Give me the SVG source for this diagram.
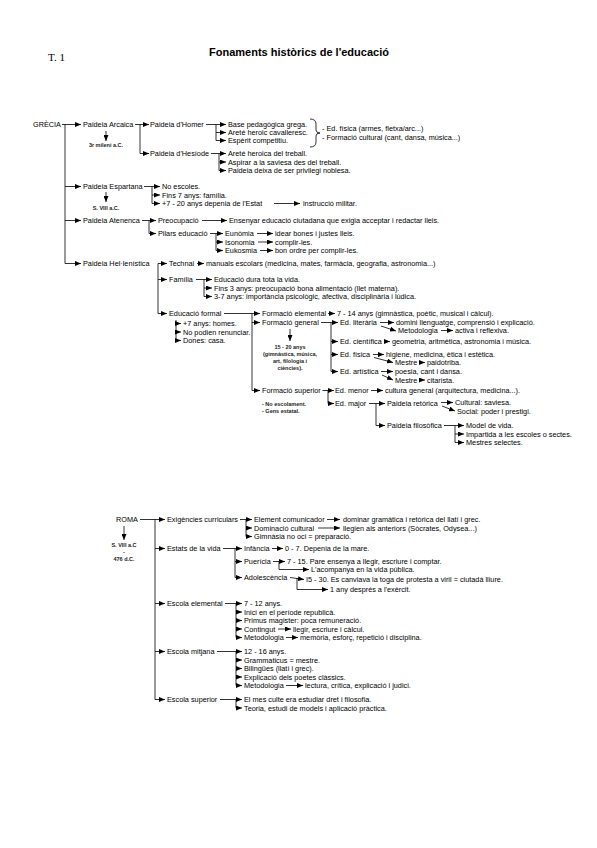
<svg xmlns="http://www.w3.org/2000/svg" width="597" height="848" viewBox="0 0 597 848">
<defs>
<marker id="a" viewBox="0 0 6 5" refX="6" refY="2.5" markerWidth="6" markerHeight="5" markerUnits="userSpaceOnUse" orient="auto"><path d="M0,0L6,2.5L0,5z" fill="#000"/></marker>
<style>
.t{font-family:"Liberation Sans",Arial,sans-serif;font-size:7.3px;fill:#000}
.s{font-family:"Liberation Sans",Arial,sans-serif;font-size:5.5px;font-weight:bold;fill:#222}
.m{text-anchor:middle}
#conn path{stroke:#000;stroke-width:0.8;fill:none}
#conn path.r{marker-end:url(#a)}
</style>
</defs>
<rect width="597" height="848" fill="#fff"/>
<g id="title">
<text x="48" y="61" style="font-family:'Liberation Serif','Times New Roman',serif;font-size:11px">T. 1</text>
<text x="299" y="56" text-anchor="middle" style="font-family:'Liberation Sans',Arial,sans-serif;font-size:11px;font-weight:bold">Fonaments històrics de l'educació</text>
</g>
<g id="conn">
<path class="r" d="M62,124.5H81"/><path d="M65,124.5V263.5"/>
<path class="r" d="M65,186.5H81"/><path class="r" d="M65,220.5H81"/><path class="r" d="M65,263.5H81"/>
<path class="r" d="M135,124.5H149"/><path d="M140,124.5V153.5"/><path class="r" d="M140,153.5H149"/>
<path class="r" d="M106,131V141"/>
<path class="r" d="M206,124.5H226"/><path d="M216,124.5V140.5"/><path class="r" d="M216,132.5H226"/><path class="r" d="M216,140.5H226"/>
<path d="M310,119Q316,119 316,124V130Q316,133 320,133Q316,133 316,136V142Q316,147 310,147"/>
<path class="r" d="M211,153.5H226"/><path d="M219,153.5V170.5"/><path class="r" d="M219,162H226"/><path class="r" d="M219,170.5H226"/>
<path class="r" d="M144,186.5H160"/><path d="M152,186.5V203.5"/><path class="r" d="M152,195H160"/><path class="r" d="M152,203.5H160"/>
<path class="r" d="M106,192V202"/>
<path class="r" d="M274,203.5H300"/>
<path d="M142,220.5H149V233.5"/><path class="r" d="M149,220.5H156"/><path class="r" d="M149,233.5H156"/>
<path class="r" d="M202,220.5H227"/>
<path class="r" d="M210,233.5H223"/><path d="M216,233.5V250.5"/><path class="r" d="M216,242H223"/><path class="r" d="M216,250.5H223"/>
<path class="r" d="M257,233.5H273"/><path class="r" d="M258,242H273"/><path class="r" d="M260,250.5H273"/>
<path d="M158,263.5V313.5"/><path class="r" d="M158,263.5H167"/><path class="r" d="M158,279.5H167"/><path class="r" d="M158,313.5H167"/>
<path class="r" d="M197,263.5H204"/>
<path class="r" d="M196,279.5H212"/><path d="M204,279.5V296.5"/><path class="r" d="M204,288H212"/><path class="r" d="M204,296.5H212"/>
<path class="r" d="M224,313.5H260"/><path d="M252,313.5V390.5"/><path class="r" d="M252,322.5H260"/><path class="r" d="M252,390.5H260"/>
<path d="M176,320V340.5"/><path class="r" d="M176,323.5H181"/><path class="r" d="M176,332H181"/><path class="r" d="M176,340.5H181"/>
<path class="r" d="M328,313.5H335"/>
<path class="r" d="M321,322.5H338"/><path d="M331,322.5V371.5"/><path class="r" d="M331,341.5H338"/><path class="r" d="M331,354.5H338"/><path class="r" d="M331,371.5H338"/>
<path class="r" d="M290,329V341"/>
<path class="r" d="M380,322.5H394"/><path class="r" d="M381,326L396,331"/><path class="r" d="M441,330.5H453"/>
<path class="r" d="M384,341.5H390"/>
<path class="r" d="M373,354.5H384"/><path class="r" d="M374,357.5L393,362.5"/><path class="r" d="M419,362.5H425"/>
<path class="r" d="M381,371.5H393"/><path class="r" d="M382,375L393,380"/><path class="r" d="M419,380H425"/>
<path class="r" d="M322.5,390.5H334"/><path d="M328,390.5V403.5"/><path class="r" d="M328,403.5H334"/>
<path class="r" d="M371,390.5H383"/>
<path class="r" d="M369,403.5H385"/><path d="M376,403.5V425.5"/><path class="r" d="M376,425.5H385"/>
<path class="r" d="M441,402.5H453"/><path class="r" d="M442,406L455,411"/>
<path class="r" d="M444,425.5H464"/><path d="M455,425.5V442.5"/><path class="r" d="M455,434H464"/><path class="r" d="M455,442.5H464"/>
<path class="r" d="M140,519.5H165"/><path d="M155,519.5V699.5"/>
<path class="r" d="M155,548.5H165"/><path class="r" d="M155,603.5H165"/><path class="r" d="M155,651.5H165"/><path class="r" d="M155,699.5H165"/>
<path class="r" d="M124,526V540"/>
<path class="r" d="M240,519.5H252"/><path d="M246,519.5V536.5"/><path class="r" d="M246,528H252"/><path class="r" d="M246,536.5H252"/>
<path class="r" d="M327,519.5H340"/><path class="r" d="M318,528H340"/>
<path class="r" d="M223,548.5H242"/><path d="M235,548.5V577.5"/><path class="r" d="M235,561.5H242"/><path class="r" d="M235,577.5H242"/>
<path class="r" d="M272,548.5H283"/>
<path class="r" d="M273,561.5H285"/><path class="r" d="M279,561.5V569.5H309"/>
<path class="r" d="M290,577.5L304,579.5"/><path class="r" d="M297,578V589.5H328"/>
<path class="r" d="M225,603.5H242"/><path d="M236,603.5V637.5"/><path class="r" d="M236,612H242"/><path class="r" d="M236,620.5H242"/><path class="r" d="M236,629H242"/><path class="r" d="M236,637.5H242"/>
<path class="r" d="M278,629H291"/><path class="r" d="M286,637.5H298"/>
<path class="r" d="M217,651.5H242"/><path d="M236,651.5V685.5"/><path class="r" d="M236,660H242"/><path class="r" d="M236,668.5H242"/><path class="r" d="M236,677H242"/><path class="r" d="M236,685.5H242"/>
<path class="r" d="M286,685.5H303"/>
<path class="r" d="M220,699.5H242"/><path d="M236,699.5V708"/><path class="r" d="M236,708H242"/>
</g>
<g id="n-grecia"><text class="t" x="33" y="127">GRÈCIA</text></g>
<g id="n-arcaica"><text class="t" x="83" y="127">Paideia Arcaica</text><text class="s m" x="106" y="147">3r mileni a.C.</text></g>
<g id="n-homer"><text class="t" x="150" y="127">Paideia d'Homer</text></g>
<g id="n-homer-l"><text class="t" x="228" y="127">Base pedagògica grega.</text><text class="t" x="228" y="135">Areté heroic cavalleresc.</text><text class="t" x="228" y="143">Espèrit competitiu.</text></g>
<g id="n-homer-b"><text class="t" x="322" y="131">- Ed. física (armes, fletxa/arc...)</text><text class="t" x="322" y="139.5">- Formació cultural (cant, dansa, música...)</text></g>
<g id="n-hesiode"><text class="t" x="150" y="156">Paideia d'Hesíode</text></g>
<g id="n-hesiode-l"><text class="t" x="228" y="156">Areté heroica del treball.</text><text class="t" x="228" y="164.5">Aspirar a la saviesa des del treball.</text><text class="t" x="228" y="173">Paideia deixa de ser privilegi noblesa.</text></g>
<g id="n-espartana"><text class="t" x="83" y="189">Paideia Espartana</text><text class="s m" x="106" y="210">S. VIII a.C.</text></g>
<g id="n-espartana-l"><text class="t" x="162" y="189">No escoles.</text><text class="t" x="162" y="197.5">Fins 7 anys: família.</text><text class="t" x="162" y="206">+7 - 20 anys depenia de l'Estat</text><text class="t" x="303" y="206">instrucció militar.</text></g>
<g id="n-atenenca"><text class="t" x="83" y="223">Paideia Atenenca</text></g>
<g id="n-preocupacio"><text class="t" x="158" y="223">Preocupació</text><text class="t" x="229" y="223">Ensenyar educació ciutadana que exigia acceptar i redactar lleis.</text></g>
<g id="n-pilars"><text class="t" x="158" y="236">Pilars educació</text></g>
<g id="n-pilars-l"><text class="t" x="225" y="236">Eunòmia</text><text class="t" x="275" y="236">idear bones i justes lleis.</text><text class="t" x="225" y="244.5">Isonomia</text><text class="t" x="275" y="244.5">complir-les.</text><text class="t" x="225" y="253">Eukosmia</text><text class="t" x="275" y="253">bon ordre per complir-les.</text></g>
<g id="n-hellenistica"><text class="t" x="83" y="266">Paideia Hel·lenística</text></g>
<g id="n-technai"><text class="t" x="169" y="266">Technai</text><text class="t" x="206" y="266">manuals escolars (medicina, mates, farmàcia, geografia, astronomia...)</text></g>
<g id="n-familia"><text class="t" x="169" y="282">Família</text><text class="t" x="214" y="282">Educació dura tota la vida.</text><text class="t" x="214" y="290.5">Fins 3 anys: preocupació bona alimentació (llet materna).</text><text class="t" x="214" y="299">3-7 anys: importància psicològic, afectiva, disciplinària i lúdica.</text></g>
<g id="n-formal"><text class="t" x="169" y="316">Educació formal</text><text class="t" x="183" y="326">+7 anys: homes.</text><text class="t" x="183" y="334.5">No podien renunciar.</text><text class="t" x="183" y="343">Dones: casa.</text></g>
<g id="n-elemental"><text class="t" x="262" y="316">Formació elemental</text><text class="t" x="337" y="316">7 - 14 anys (gimnàstica, poètic, musical i càlcul).</text></g>
<g id="n-general"><text class="t" x="262" y="325">Formació general</text><text class="s m" x="290" y="348.5">15 - 20 anys</text><text class="s m" x="290" y="355.5">(gimnàstica, música,</text><text class="s m" x="290" y="362.5">art, filologia i</text><text class="s m" x="290" y="369.5">ciències).</text></g>
<g id="n-literaria"><text class="t" x="340" y="325">Ed. literària</text><text class="t" x="396" y="325">domini llenguatge, comprensió i explicació.</text><text class="t" x="398" y="333">Metodologia</text><text class="t" x="455" y="333">activa i reflexiva.</text></g>
<g id="n-cientifica"><text class="t" x="340" y="344">Ed. científica</text><text class="t" x="392" y="344">geometria, aritmètica, astronomia i música.</text></g>
<g id="n-fisica"><text class="t" x="340" y="357">Ed. física</text><text class="t" x="386" y="357">higiene, medicina, ètica i estètica.</text><text class="t" x="395" y="365">Mestre</text><text class="t" x="427" y="365">paidotriba.</text></g>
<g id="n-artistica"><text class="t" x="340" y="374">Ed. artística</text><text class="t" x="395" y="374">poesia, cant i dansa.</text><text class="t" x="395" y="382.5">Mestre</text><text class="t" x="427" y="382.5">citarista.</text></g>
<g id="n-superior"><text class="t" x="262" y="393">Formació superior</text><text class="s" x="262" y="406">- No escolament.</text><text class="s" x="262" y="413">- Gens estatal.</text></g>
<g id="n-menor"><text class="t" x="335" y="393">Ed. menor</text><text class="t" x="385" y="393">cultura general (arquitectura, medicina...).</text></g>
<g id="n-major"><text class="t" x="335" y="406">Ed. major</text></g>
<g id="n-retorica"><text class="t" x="387" y="406">Paideia retòrica</text><text class="t" x="455" y="405">Cultural: saviesa.</text><text class="t" x="457" y="413.5">Social: poder i prestigi.</text></g>
<g id="n-filosofica"><text class="t" x="387" y="428">Paideia filosòfica</text><text class="t" x="466" y="428">Model de vida.</text><text class="t" x="466" y="436.5">Impartida a les escoles o sectes.</text><text class="t" x="466" y="445">Mestres selectes.</text></g>
<g id="n-roma"><text class="t" x="116" y="522">ROMA</text><text class="s m" x="124" y="547">S. VIII a.C</text><text class="s m" x="124" y="554">-</text><text class="s m" x="124" y="561">476 d.C.</text></g>
<g id="n-exigencies"><text class="t" x="167" y="522">Exigències curriculars</text><text class="t" x="254" y="522">Element comunicador</text><text class="t" x="343" y="522">dominar gramàtica i retòrica del llatí i grec.</text><text class="t" x="254" y="530.5">Dominació cultural</text><text class="t" x="343" y="530.5">llegien als anteriors (Sòcrates, Odysea...)</text><text class="t" x="254" y="539">Gimnàsia no oci = preparació.</text></g>
<g id="n-estats"><text class="t" x="167" y="551">Estats de la vida</text><text class="t" x="244" y="551">Infància</text><text class="t" x="285" y="551">0 - 7. Depenia de la mare.</text><text class="t" x="244" y="564">Puerícia</text><text class="t" x="287" y="564">7 - 15. Pare ensenya a llegir, escriure i comptar.</text><text class="t" x="311" y="572">L'acompanya en la vida pública.</text><text class="t" x="244" y="580">Adolescència</text><text class="t" x="306" y="582">I5 - 30. Es canviava la toga de protesta a viril = ciutadà lliure.</text><text class="t" x="330" y="592">1 any després a l'exèrcit.</text></g>
<g id="n-escola-elemental"><text class="t" x="167" y="606">Escola elemental</text><text class="t" x="244" y="606">7 - 12 anys.</text><text class="t" x="244" y="614.5">Inici en el període republicà.</text><text class="t" x="244" y="623">Primus magister: poca remuneració.</text><text class="t" x="244" y="631.5">Contingut</text><text class="t" x="293" y="631.5">llegir, escriure i càlcul.</text><text class="t" x="244" y="640">Metodologia</text><text class="t" x="300" y="640">memòria, esforç, repetició i disciplina.</text></g>
<g id="n-escola-mitjana"><text class="t" x="167" y="654">Escola mitjana</text><text class="t" x="244" y="654">12 - 16 anys.</text><text class="t" x="244" y="662.5">Grammaticus = mestre.</text><text class="t" x="244" y="671">Bilingües (llatí i grec).</text><text class="t" x="244" y="679.5">Explicació dels poetes clàssics.</text><text class="t" x="244" y="688">Metodologia</text><text class="t" x="305" y="688">lectura, crítica, explicació i judici.</text></g>
<g id="n-escola-superior"><text class="t" x="167" y="702">Escola superior</text><text class="t" x="244" y="702">El mes culte era estudiar dret i filosofia.</text><text class="t" x="244" y="710.5">Teoria, estudi de models i aplicació pràctica.</text></g>
</svg>
